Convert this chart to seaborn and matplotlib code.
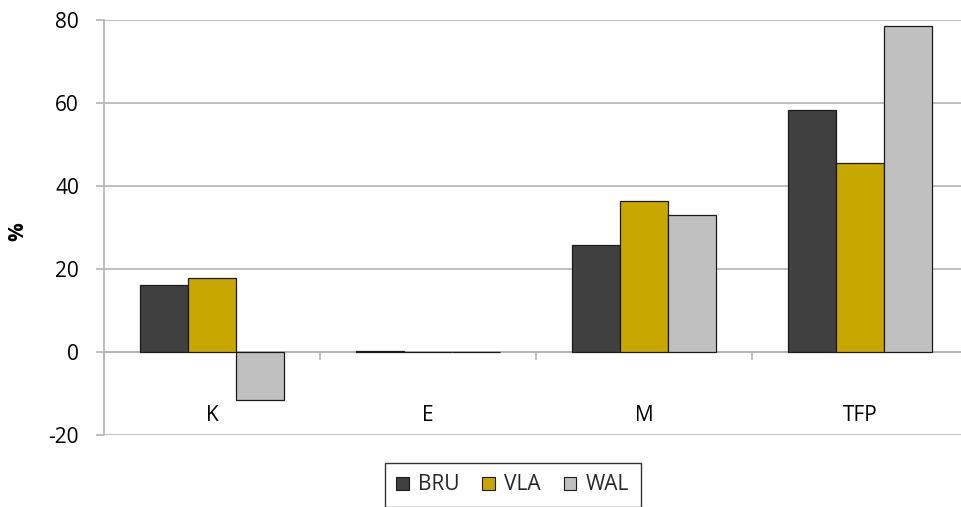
import matplotlib
matplotlib.use("Agg")
import matplotlib.pyplot as plt
import seaborn as sns
import pandas as pd
import numpy as np

# Contributions to growth by factor and region (%)
factors = ["K", "E", "M", "TFP"]
regions = ["BRU", "VLA", "WAL"]
bru = [16.1, 0.2, 25.7, 58.2]
vla = [17.9, 0.1, 36.3, 45.6]
wal = [-11.6, 0.1, 32.9, 78.6]
yticks = [-20, 0, 20, 40, 60, 80]

colors = {"BRU": "#404040", "VLA": "#C8A800", "WAL": "#C0C0C0"}

df = pd.DataFrame({
    "factor": factors * 3,
    "region": [r for r in regions for _ in factors],
    "value": bru + vla + wal,
})

sns.set_theme(style="white")
plt.rcParams["font.family"] = ["Open Sans", "DejaVu Sans"]
FS = 15

fig = plt.figure(figsize=(9.61, 5.07), dpi=100)
ax = fig.add_axes([104 / 961, 72 / 507, 864 / 961, 415 / 507])

sns.barplot(data=df, x="factor", y="value", hue="region", order=factors,
            hue_order=regions, palette=colors, width=0.667, gap=0,
            edgecolor="#1a1a1a", linewidth=0.9, saturation=1,
            errorbar=None, ax=ax, zorder=3)

ax.set_xlim(-0.5, len(factors) - 0.5)
ax.set_ylim(-20, 80)
ax.set_yticks(yticks)
ax.set_yticklabels([str(v) for v in yticks], fontsize=FS, color="black")
ax.yaxis.grid(True, color="#b3b3b3", linewidth=1.2, zorder=0)
ax.xaxis.grid(False)

for side in ("top", "right"):
    ax.spines[side].set_visible(False)
ax.spines["left"].set_color("#b3b3b3")
ax.spines["left"].set_linewidth(1.2)
ax.spines["bottom"].set_position(("data", 0))
ax.spines["bottom"].set_color("#b3b3b3")
ax.spines["bottom"].set_linewidth(1.2)

ax.tick_params(axis="y", which="both", left=True, length=6, width=1.2,
               color="#b3b3b3", pad=12)
# category labels sit low, boundary tick marks on the zero line
ax.set_xticks(range(len(factors)))
ax.set_xticklabels(factors, fontsize=FS, color="black")
ax.tick_params(axis="x", which="major", length=0, pad=38)
ax.set_xticks(np.arange(-0.5, len(factors), 1.0), minor=True)
ax.tick_params(axis="x", which="minor", bottom=True, length=6, width=1.2,
               color="#b3b3b3")

ax.set_xlabel("")
ax.set_ylabel("%", fontsize=FS, fontweight="bold", color="black")
ax.yaxis.set_label_coords(-0.087, 0.489)

leg = ax.legend(loc="upper center", bbox_to_anchor=(0.473, -0.0675),
                ncol=3, frameon=True, fancybox=False, fontsize=FS,
                handlelength=0.6, handleheight=0.6, handletextpad=0.45,
                columnspacing=1.1, borderpad=0.55, borderaxespad=0)
leg.get_frame().set_edgecolor("black")
leg.get_frame().set_linewidth(1.0)
for h in leg.legend_handles:
    h.set_edgecolor("#1a1a1a")
    h.set_linewidth(0.8)

fig.savefig("out.png", dpi=100)
